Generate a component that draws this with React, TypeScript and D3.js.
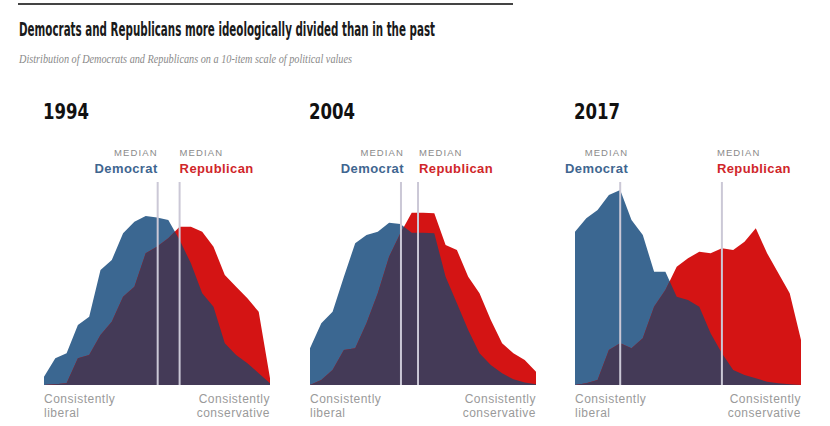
import * as d3 from "d3";

const W = 830;
const H = 426;

// position on the 10-item scale (-10 = consistently liberal, +10 = consistently conservative)
const scalePoints = [-10, -9, -8, -7, -6, -5, -4, -3, -2, -1, 0, 1, 2, 3, 4, 5, 6, 7, 8, 9, 10];

const years = ["1994", "2004", "2017"];

// share of each party at each point (%)
const dem1994 = [0.33, 1.07, 1.27, 2.4, 2.73, 4.6, 5.0, 6.07, 6.53, 6.76, 6.7, 6.6, 5.8, 4.87, 3.67, 3.13, 1.67, 1.2, 0.87, 0.47, 0.07];
const rep1994 = [0, 0.03, 0.07, 1.07, 1.2, 2.0, 2.53, 3.53, 3.93, 5.27, 5.53, 5.87, 6.33, 6.33, 6.13, 5.53, 4.4, 3.93, 3.47, 2.93, 0.27];
const dem2004 = [1.47, 2.47, 2.93, 4.33, 5.67, 6.0, 6.13, 6.49, 6.44, 6.09, 6.09, 6.07, 4.33, 3.27, 2.2, 1.27, 0.8, 0.47, 0.23, 0.1, 0.03];
const rep2004 = [0, 0.2, 0.6, 1.4, 1.47, 2.47, 3.67, 5.13, 6.07, 6.89, 6.89, 6.87, 5.6, 5.4, 4.33, 3.67, 2.6, 1.67, 1.27, 1.0, 0.53];
const dem2017 = [6.13, 6.67, 7.0, 7.6, 7.8, 6.6, 6.0, 4.53, 4.53, 3.53, 3.4, 3.13, 2.07, 1.27, 0.6, 0.4, 0.27, 0.13, 0.07, 0.03, 0];
const rep2017 = [0, 0.07, 0.2, 1.4, 1.67, 1.47, 1.87, 3.13, 3.8, 4.73, 5.07, 5.33, 5.27, 5.47, 5.4, 5.73, 6.27, 5.27, 4.47, 3.67, 1.8];

const demSeries = [dem1994, dem2004, dem2017];
const repSeries = [rep1994, rep2004, rep2017];

// medians on the same scale
const demMedians = [0.06, -1.95, -6.0];
const repMedians = [2.0, -0.44, 3.0];

const DEM = "#3b6791";
const REP = "#d41414";
const BOTH = "#443a57";
const LINE = "#cbc8d6";

const panelLeft = [44, 310, 575];
const panelWidth = 226;
const BASE = 385;
const LINE_TOP = 182;
// nudges so the labels sit like the original
const demLabelShift = [0, 3, 8];
const repLabelShift = [0, 1, -5];

const y = d3.scaleLinear().domain([0, 8]).range([BASE, BASE - 200]);

const labelFont = "'Liberation Sans', Arial, sans-serif";
const narrowFont = "'Liberation Sans Narrow', 'DejaVu Sans Condensed', 'Arial Narrow', sans-serif";

function Panel({ i }: { i: number }) {
  const x = d3
    .scaleLinear()
    .domain([scalePoints[0], scalePoints[scalePoints.length - 1]])
    .range([panelLeft[i], panelLeft[i] + panelWidth]);

  const area = d3
    .area<number>()
    .x((_, j) => x(scalePoints[j]))
    .y0(BASE)
    .y1((d) => y(d));

  const demPath = area(demSeries[i]) || "";
  const repPath = area(repSeries[i]) || "";
  const dx = x(demMedians[i]);
  const rx = x(repMedians[i]);
  const left = panelLeft[i];
  const right = panelLeft[i] + panelWidth;

  return (
    <g>
      <defs>
        <clipPath id={`demclip-${i}`}>
          <path d={demPath} />
        </clipPath>
      </defs>
      <text
        x={left - 1}
        y={119}
        fontFamily={narrowFont}
        fontWeight="bold"
        fontSize={21}
        textLength={46}
        lengthAdjust="spacingAndGlyphs"
        fill="#111"
      >
        {years[i]}
      </text>

      <path d={demPath} fill={DEM} />
      <path d={repPath} fill={REP} />
      <path d={repPath} fill={BOTH} clipPath={`url(#demclip-${i})`} />

      <line x1={dx} x2={dx} y1={LINE_TOP} y2={BASE} stroke={LINE} strokeWidth={2} />
      <line x1={rx} x2={rx} y1={LINE_TOP} y2={BASE} stroke={LINE} strokeWidth={2} />

      <g fontFamily={labelFont}>
        <text x={dx + demLabelShift[i]} y={156} textAnchor="end" fontSize={9.5} letterSpacing={1.1} fill="#8a8a8a">
          MEDIAN
        </text>
        <text x={dx + demLabelShift[i]} y={173} textAnchor="end" fontSize={13} fontWeight="bold" letterSpacing={0.4} fill="#3f6690">
          Democrat
        </text>
        <text x={rx + repLabelShift[i]} y={156} fontSize={9.5} letterSpacing={1.1} fill="#8a8a8a">
          MEDIAN
        </text>
        <text x={rx + repLabelShift[i]} y={173} fontSize={13} fontWeight="bold" letterSpacing={0.4} fill="#d0262a">
          Republican
        </text>

        <g fontSize={12} letterSpacing={0.5} fill="#9a9a9a">
          <text x={left} y={403}>Consistently</text>
          <text x={left} y={417}>liberal</text>
          <text x={right} y={403} textAnchor="end">Consistently</text>
          <text x={right} y={417} textAnchor="end">conservative</text>
        </g>
      </g>
    </g>
  );
}

export default function App() {
  return (
    <svg
      width={W}
      height={H}
      viewBox={`0 0 ${W} ${H}`}
      style={{ position: "absolute", left: 0, top: 0, background: "#fff" }}
    >
      <rect x={0} y={0} width={W} height={H} fill="#fff" />
      <line x1={18} x2={513} y1={4} y2={4} stroke="#444" strokeWidth={2} />
      <text
        x={19}
        y={36}
        fontFamily={narrowFont}
        fontWeight="bold"
        fontSize={19}
        textLength={416}
        lengthAdjust="spacingAndGlyphs"
        fill="#1a1a1a"
      >
        Democrats and Republicans more ideologically divided than in the past
      </text>
      <text
        x={19}
        y={63}
        fontFamily="'Liberation Serif', 'DejaVu Serif', serif"
        fontStyle="italic"
        fontSize={12.5}
        textLength={333}
        lengthAdjust="spacingAndGlyphs"
        fill="#8a8a8a"
      >
        Distribution of Democrats and Republicans on a 10-item scale of political values
      </text>
      {years.map((_, i) => (
        <Panel key={i} i={i} />
      ))}
    </svg>
  );
}
